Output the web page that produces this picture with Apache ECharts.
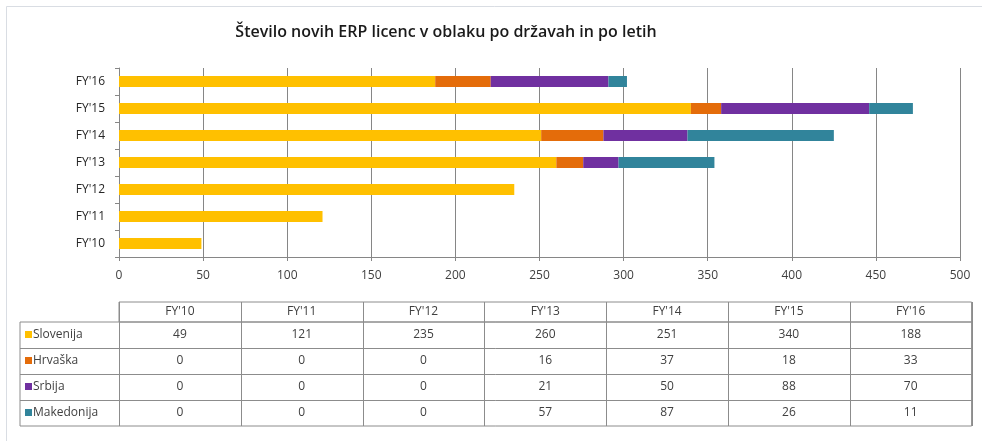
<!DOCTYPE html>
<html>
<head>
<meta charset="utf-8">
<script src="https://cdn.jsdelivr.net/npm/echarts@6/dist/echarts.min.js"></script>
<style>
  html, body { margin: 0; padding: 0; background: #fff; }
  #chart { width: 982px; height: 441px; }
</style>
</head>
<body>
<div id="chart"></div>
<script>
var years = ["FY'10", "FY'11", "FY'12", "FY'13", "FY'14", "FY'15", "FY'16"];
var slovenija = [49, 121, 235, 260, 251, 340, 188];
var hrvaska = [0, 0, 0, 16, 37, 18, 33];
var srbija = [0, 0, 0, 21, 50, 88, 70];
var makedonija = [0, 0, 0, 57, 87, 26, 11];
var xTicks = [0, 50, 100, 150, 200, 250, 300, 350, 400, 450, 500];

var seriesDefs = [
  { name: "Slovenija", data: slovenija, color: "#FFC000" },
  { name: "Hrvaška", data: hrvaska, color: "#E46C0A" },
  { name: "Srbija", data: srbija, color: "#7030A0" },
  { name: "Makedonija", data: makedonija, color: "#31849B" }
];

var FONT = "'Open Sans', 'Noto Sans', sans-serif";

// data table under the chart (built from the same arrays)
function buildTable() {
  var els = [];
  var left = 20, firstCol = 119, colW = 121.8, top = 302;
  var headH = 20, rowH = 26;
  var right = firstCol + colW * years.length;
  var bottom = top + headH + rowH * seriesDefs.length;
  var line = { stroke: "#8c8c8c", lineWidth: 1 };

  // header row border (only over value columns)
  els.push({ type: "rect", shape: { x: firstCol, y: top, width: right - firstCol, height: headH }, style: { fill: null, stroke: "#8c8c8c", lineWidth: 1 } });
  // body border
  els.push({ type: "rect", shape: { x: left, y: top + headH, width: right - left, height: bottom - top - headH }, style: { fill: null, stroke: "#8c8c8c", lineWidth: 1 } });
  for (var c = 0; c <= years.length; c++) {
    var x = Math.round(firstCol + c * colW) + 0.5;
    els.push({ type: "line", shape: { x1: x, y1: top, x2: x, y2: bottom }, style: line });
  }
  for (var r = 1; r < seriesDefs.length; r++) {
    var y = top + headH + r * rowH + 0.5;
    els.push({ type: "line", shape: { x1: left, y1: y, x2: right, y2: y }, style: line });
  }
  years.forEach(function (yr, i) {
    els.push({ type: "text", x: firstCol + colW * (i + 0.5), y: top + headH / 2,
      style: { text: yr, fill: "#404040", font: "12px " + FONT, align: "center", verticalAlign: "middle" } });
  });
  seriesDefs.forEach(function (s, r) {
    var cy = top + headH + rowH * (r + 0.5);
    els.push({ type: "rect", shape: { x: left + 5, y: cy - 4, width: 7, height: 7 }, style: { fill: s.color } });
    els.push({ type: "text", x: left + 13, y: cy,
      style: { text: s.name, fill: "#404040", font: "12px " + FONT, align: "left", verticalAlign: "middle" } });
    s.data.forEach(function (v, i) {
      els.push({ type: "text", x: firstCol + colW * (i + 0.5), y: cy,
        style: { text: String(v), fill: "#404040", font: "12px " + FONT, align: "center", verticalAlign: "middle" } });
    });
  });
  return els;
}

var chart = echarts.init(document.getElementById("chart"), null, { renderer: "canvas" });

var option = {
  animation: false,
  backgroundColor: "#fff",
  title: {
    text: "Število novih ERP licenc v oblaku po državah in po letih",
    left: 441, top: 19, textAlign: "center",
    textStyle: { fontFamily: FONT, fontSize: 16, fontWeight: 600, color: "#1a1a1a" }
  },
  grid: { left: 119, right: 22, top: 68, height: 189, containLabel: false },
  xAxis: {
    type: "value", min: 0, max: 500, interval: 50,
    axisLine: { show: true, lineStyle: { color: "#868686" } },
    axisTick: { show: true, length: 4, lineStyle: { color: "#868686" } },
    axisLabel: { color: "#404040", fontFamily: FONT, fontSize: 12, margin: 13,
      formatter: function (v) { return xTicks.indexOf(v) >= 0 ? String(v) : ""; } },
    splitLine: { show: true, lineStyle: { color: "#868686", width: 1 } }
  },
  yAxis: {
    type: "category", data: years,
    axisLine: { show: true, lineStyle: { color: "#868686" } },
    axisTick: { show: true, length: 4, lineStyle: { color: "#868686" } },
    axisLabel: { color: "#262626", fontFamily: FONT, fontSize: 12, margin: 14 }
  },
  series: seriesDefs.map(function (s) {
    return {
      name: s.name, type: "bar", stack: "total", data: s.data,
      barWidth: 11,
      itemStyle: { color: s.color }
    };
  }),
  graphic: [
    { type: "rect", shape: { x: 6.5, y: 6.5, width: 990, height: 450 }, style: { fill: null, stroke: "#d9dde3", lineWidth: 1 }, silent: true },
    { type: "group", children: buildTable() }
  ]
};

chart.setOption(option);
</script>
</body>
</html>
